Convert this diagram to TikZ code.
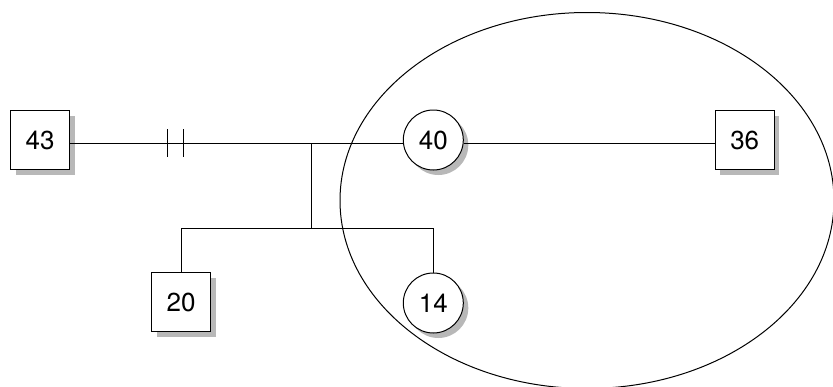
\documentclass[tikz,border=0pt]{standalone}
\usepackage{fontspec}
\setmainfont{TeX Gyre Heros}
\usetikzlibrary{shadows,calc}
\begin{document}
\begin{tikzpicture}[x=1pt,y=-1pt,line width=1pt,
  shd/.style={drop shadow={fill=black!28,opacity=1,shadow xshift=5pt,shadow yshift=-5pt}},
  male/.style={draw,fill=white,rectangle,minimum size=59pt,inner sep=0pt,shd,font=\fontsize{26}{30}\selectfont},
  female/.style={draw,fill=white,circle,minimum size=60pt,inner sep=0pt,shd,font=\fontsize{26}{30}\selectfont},
  link/.style={draw,line width=1pt}]
\useasboundingbox (0,0) rectangle (833,386);
\draw[line width=1pt] (587,200.5) ellipse [x radius=247pt, y radius=188pt];
\coordinate (j) at (311.7,143);
\coordinate (b) at (311.7,228);
\coordinate (h1) at (167,143);
\coordinate (h2) at (183,143);
\node[male] (n43) at (40,140) {43};
\node[female] (n40) at (433.3,140) {40};
\node[male] (n36) at (744.7,140) {36};
\node[male] (n20) at (181,302) {20};
\node[female] (n14) at (433.3,303) {14};
\draw[link] (n43.east |- j) -- (n40.west |- j);
\draw[link] (n40.east |- j) -- (n36.west |- j);
\draw[link] ($(h1)+(0,-14)$) -- ($(h1)+(0,14)$);
\draw[link] ($(h2)+(0,-14)$) -- ($(h2)+(0,14)$);
\draw[link] (j) -- (b);
\draw[link] (n20.north) -- (n20.north |- b) -- (n14.north |- b) -- (n14.north);
\end{tikzpicture}
\end{document}
